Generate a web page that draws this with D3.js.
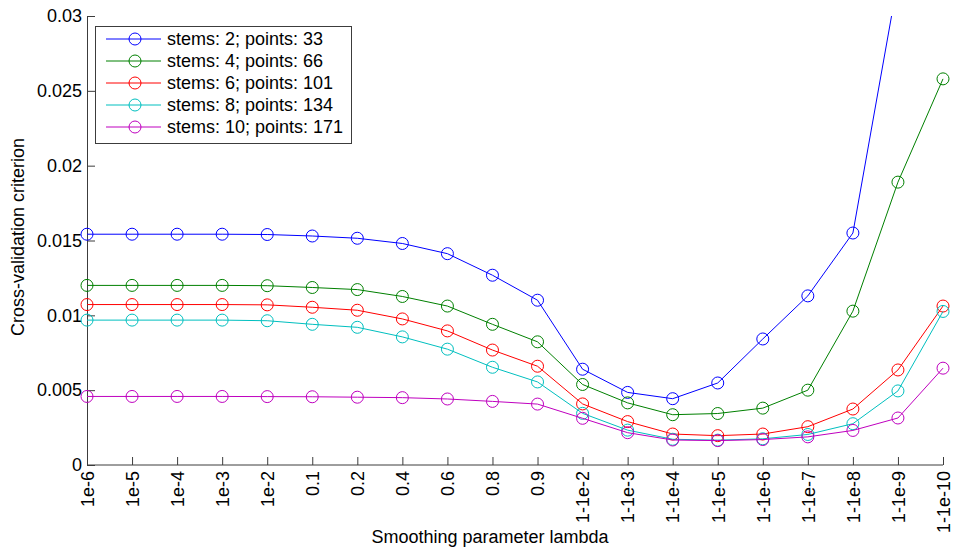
<!DOCTYPE html>
<html>
<head>
<meta charset="utf-8">
<script src="https://cdn.jsdelivr.net/npm/d3@7"></script>
<style>
  body { margin: 0; background: #fff; }
  svg { display: block; }
  text { font-family: "Liberation Sans", Arial, Helvetica, sans-serif; fill: #000; }
</style>
</head>
<body>
<svg id="chart" width="959" height="549"></svg>
<script>
const categories = ["1e-6","1e-5","1e-4","1e-3","1e-2","0.1","0.2","0.4","0.6","0.8","0.9",
  "1-1e-2","1-1e-3","1-1e-4","1-1e-5","1-1e-6","1-1e-7","1-1e-8","1-1e-9","1-1e-10"];

const seriesNames = ["stems: 2; points: 33","stems: 4; points: 66","stems: 6; points: 101",
  "stems: 8; points: 134","stems: 10; points: 171"];
const seriesColors = ["#0000ff","#008000","#ff0000","#00bfbf","#bf00bf"];

const stems2  = [0.01542,0.01542,0.01542,0.01542,0.01540,0.01530,0.01515,0.01480,0.01412,0.01268,0.01101,
                 0.00640,0.00485,0.00443,0.00548,0.00842,0.01130,0.01550,0.03240,0.04500];
const stems4  = [0.01200,0.01200,0.01200,0.01200,0.01198,0.01186,0.01172,0.01126,0.01062,0.00940,0.00823,
                 0.00538,0.00415,0.00336,0.00344,0.00380,0.00500,0.01028,0.01890,0.02580];
const stems6  = [0.01072,0.01072,0.01072,0.01072,0.01070,0.01054,0.01034,0.00976,0.00896,0.00768,0.00660,
                 0.00408,0.00290,0.00207,0.00196,0.00207,0.00256,0.00374,0.00635,0.01062];
const stems8  = [0.00968,0.00968,0.00968,0.00968,0.00964,0.00940,0.00920,0.00856,0.00774,0.00653,0.00555,
                 0.00345,0.00233,0.00172,0.00166,0.00175,0.00204,0.00276,0.00495,0.01026];
const stems10 = [0.00458,0.00458,0.00458,0.00458,0.00457,0.00456,0.00453,0.00450,0.00441,0.00425,0.00407,
                 0.00312,0.00216,0.00167,0.00163,0.00170,0.00188,0.00231,0.00314,0.00647];
const allSeries = [stems2, stems4, stems6, stems8, stems10];

const yTicks = [0, 0.005, 0.01, 0.015, 0.02, 0.025, 0.03];
const yTickLabels = ["0","0.005","0.01","0.015","0.02","0.025","0.03"];

const svg = d3.select("#chart");
const x0 = 87, x1 = 943, y0 = 465, y1 = 16;

const x = d3.scalePoint().domain(categories).range([x0, x1]);
const y = d3.scaleLinear().domain([0, 0.03]).range([y0, y1]);

const axisColor = "#3c3c3c";

svg.append("defs").append("clipPath").attr("id", "clip")
  .append("rect").attr("x", x0 - 8).attr("y", y1).attr("width", x1 - x0 + 16).attr("height", y0 - y1);

// X axis
const xAxis = svg.append("g").attr("transform", `translate(0,${y0})`)
  .call(d3.axisBottom(x).tickSizeInner(-8).tickSizeOuter(0).tickPadding(6));
xAxis.select(".domain").attr("stroke", axisColor).attr("d", `M${x0},0H${x1}`);
xAxis.selectAll(".tick line").attr("stroke", axisColor);
xAxis.selectAll(".tick text")
  .attr("transform", "rotate(-90)")
  .attr("text-anchor", "end")
  .attr("x", -6).attr("y", 0).attr("dy", "0.35em")
  .style("font-size", "18px")
  .style("font-family", "'Liberation Sans', Arial, sans-serif");

// Y axis
const yAxis = svg.append("g").attr("transform", `translate(${x0},0)`)
  .call(d3.axisLeft(y).tickValues(yTicks).tickFormat((d, i) => yTickLabels[i])
    .tickSizeInner(-8).tickSizeOuter(0).tickPadding(5));
yAxis.select(".domain").attr("stroke", axisColor);
yAxis.selectAll(".tick line").attr("stroke", axisColor);
yAxis.selectAll(".tick text")
  .attr("x", -5)
  .style("font-size", "18px")
  .style("font-family", "'Liberation Sans', Arial, sans-serif");

// Axis titles
svg.append("text")
  .attr("x", 490).attr("y", 543)
  .attr("text-anchor", "middle")
  .style("font-size", "18px")
  .text("Smoothing parameter lambda");

svg.append("text")
  .attr("transform", `translate(24,237) rotate(-90)`)
  .attr("text-anchor", "middle")
  .style("font-size", "18px")
  .text("Cross-validation criterion");

// Series
const plot = svg.append("g").attr("clip-path", "url(#clip)");
const line = d3.line().x((d, i) => x(categories[i])).y(d => y(d));

allSeries.forEach((vals, s) => {
  const g = plot.append("g");
  g.append("path").datum(vals)
    .attr("d", line)
    .attr("fill", "none")
    .attr("stroke", seriesColors[s])
    .attr("stroke-width", 1);
  g.selectAll("circle").data(vals).enter().append("circle")
    .attr("cx", (d, i) => x(categories[i]))
    .attr("cy", d => y(d))
    .attr("r", 6)
    .attr("fill", "none")
    .attr("stroke", seriesColors[s])
    .attr("stroke-width", 1);
});

// Legend
const lg = svg.append("g");
const lx = 95, ly = 26, lw = 256, lh = 117;
lg.append("rect").attr("x", lx + 0.5).attr("y", ly + 0.5).attr("width", lw).attr("height", lh)
  .attr("fill", "#fff").attr("stroke", axisColor).attr("stroke-width", 1);
seriesNames.forEach((name, s) => {
  const cy = ly + 13 + s * 22;
  lg.append("line").attr("x1", lx + 11).attr("x2", lx + 66).attr("y1", cy).attr("y2", cy)
    .attr("stroke", seriesColors[s]).attr("stroke-width", 1);
  lg.append("circle").attr("cx", lx + 40).attr("cy", cy).attr("r", 6)
    .attr("fill", "none").attr("stroke", seriesColors[s]);
  lg.append("text").attr("x", lx + 72).attr("y", cy).attr("dy", "0.35em")
    .style("font-size", "18px").text(name);
});
</script>
</body>
</html>
